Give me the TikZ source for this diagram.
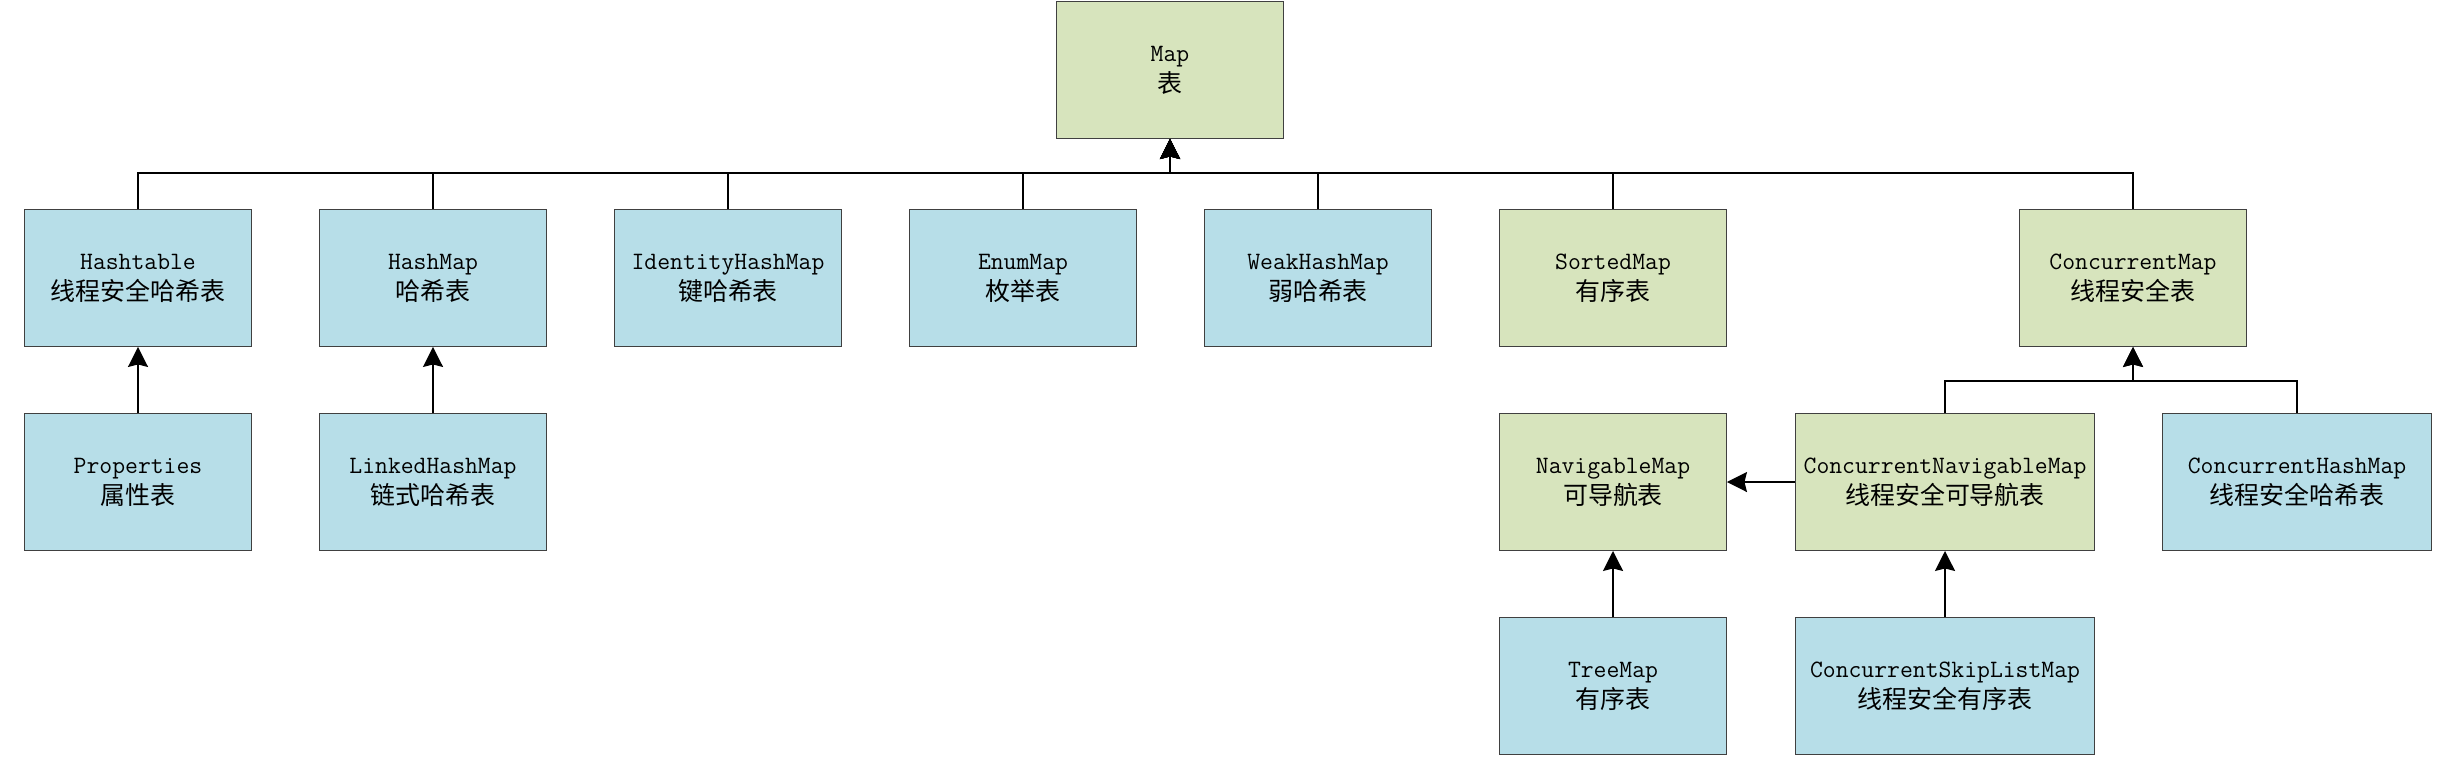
\documentclass[tikz,border=0pt]{standalone}
\usepackage{fontspec}
\newfontfamily\cjk{Noto Sans CJK SC}
\usepackage{tikz}
\usetikzlibrary{arrows.meta,positioning}

\definecolor{implblue}{HTML}{B7DEE8}
\definecolor{ifacegreen}{HTML}{D7E4BD}

\tikzset{
  box/.style={draw=black!75, line width=0.5pt, minimum width=4.54cm,
    minimum height=2.74cm, inner sep=0pt, align=center,
    font=\ttfamily\fontsize{14.2}{17.6}\selectfont},
  impl/.style={box, fill=implblue},
  iface/.style={box, fill=ifacegreen},
  link/.style={-{Stealth[length=0.4cm,width=0.4cm,inset=0.05cm]}, line width=1.1pt}
}

\begin{document}
\begin{tikzpicture}[node distance=5.9cm]
        \useasboundingbox (0,0) rectangle (49.14,-15.12);
        \node [impl] (ht) at (2.76,-5.56) {Hashtable\\\cjk 线程安全哈希表};
        \node [impl, right of=ht] (hm) {HashMap\\\cjk 哈希表};
        \node [impl, right of=hm] (ih) {IdentityHashMap\\\cjk 键哈希表};
        \node [impl, right of=ih] (em) {EnumMap\\\cjk 枚举表};
        \node [impl, right of=em] (wh) {WeakHashMap\\\cjk 弱哈希表};
        \node [iface, right of=wh] (sm) {SortedMap\\\cjk 有序表};
        \node [iface, right of=sm, xshift=4.5cm] (cm) {ConcurrentMap\\\cjk 线程安全表};
        \node [iface, above of=em, xshift=2.94cm, yshift=-1.74cm] (map) {Map\\\cjk 表};
        \node [impl, below of=ht, yshift=1.82cm] (pr) {Properties\\\cjk 属性表};
        \node [impl, below of=hm, yshift=1.82cm] (lh) {LinkedHashMap\\\cjk 链式哈希表};
        \node [iface, below of=sm, yshift=1.82cm] (nm) {NavigableMap\\\cjk 可导航表};
        \node [iface, right of=nm, xshift=0.74cm, minimum width=5.98cm] (cnm) {ConcurrentNavigableMap\\\cjk 线程安全可导航表};
        \node [impl, right of=cnm, xshift=1.14cm, minimum width=5.38cm] (chm) {ConcurrentHashMap\\\cjk 线程安全哈希表};
        \node [impl, below of=nm, yshift=1.82cm] (tm) {TreeMap\\\cjk 有序表};
        \node [impl, below of=cnm, yshift=1.82cm, minimum width=5.98cm] (cs) {ConcurrentSkipListMap\\\cjk 线程安全有序表};
        \coordinate (bus) at ([yshift=-0.68cm]map.south);
        \coordinate (cbus) at ([yshift=-0.68cm]cm.south);
        \draw[link] (ht.north) |- (bus) -- (map.south);
        \draw[link] (hm.north) |- (bus) -- (map.south);
        \draw[link] (ih.north) |- (bus) -- (map.south);
        \draw[link] (em.north) |- (bus) -- (map.south);
        \draw[link] (wh.north) |- (bus) -- (map.south);
        \draw[link] (sm.north) |- (bus) -- (map.south);
        \draw[link] (cm.north) |- (bus) -- (map.south);
        \draw[link] (cnm.north) |- (cbus) -- (cm.south);
        \draw[link] (chm.north) |- (cbus) -- (cm.south);
        \draw[link] (pr) -- (ht);
        \draw[link] (lh) -- (hm);
        \draw[link] (tm) -- (nm);
        \draw[link] (cs) -- (cnm);
        \draw[link] (cnm) -- (nm);
      \end{tikzpicture}
\end{document}
